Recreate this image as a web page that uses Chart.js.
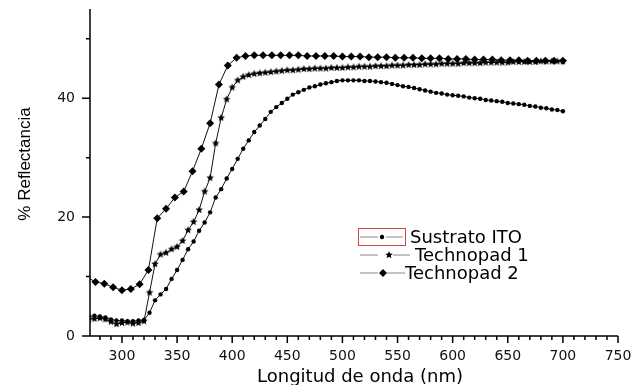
<!DOCTYPE html>
<html>
<head>
<meta charset="utf-8">
<script src="https://cdn.jsdelivr.net/npm/chart.js@4/dist/chart.umd.min.js"></script>
<style>
  html, body { margin: 0; padding: 0; background: #fff; }
  #wrap { width: 634px; height: 385px; }
</style>
</head>
<body>
<div id="wrap"><canvas id="c" width="634" height="385"></canvas></div>
<script>
// wavelengths (nm) and reflectance (%)
var itoWave = [270,275,280,285,290,295,300,305,310,315,320,325,330,335,340,345,350,355,360,365,
               370,375,380,385,390,395,400,405,410,415,420,425,430,435,440,445,450,455,460,465,
               470,475,480,485,490,495,500,505,510,515,520,525,530,535,540,545,550,555,560,565,
               570,575,580,585,590,595,600,605,610,615,620,625,630,635,640,645,650,655,660,665,
               670,675,680,685,690,695,700];
var itoRefl = [3.3,3.4,3.3,3.1,2.8,2.6,2.6,2.5,2.5,2.6,2.7,3.9,6.0,7.0,7.9,9.6,11.1,12.8,14.6,15.9,
               17.7,19.1,20.8,23.3,24.7,26.5,28.1,29.8,31.5,32.9,34.3,35.4,36.5,37.7,38.5,39.2,39.9,40.6,41.0,41.4,
               41.8,42.0,42.3,42.5,42.7,42.9,43.0,43.0,43.0,43.0,42.9,42.9,42.8,42.7,42.6,42.4,42.2,42.0,41.9,41.7,
               41.5,41.3,41.1,40.9,40.8,40.6,40.5,40.4,40.3,40.1,40.0,39.9,39.7,39.6,39.5,39.4,39.2,39.1,39.0,38.9,
               38.7,38.6,38.4,38.3,38.1,38.0,37.8];

var tp1Wave = [270,275,280,285,290,295,300,305,310,315,320,325,330,335,340,345,350,355,360,365,
               370,375,380,385,390,395,400,405,410,415,420,425,430,435,440,445,450,455,460,465,
               470,475,480,485,490,495,500,505,510,515,520,525,530,535,540,545,550,555,560,565,
               570,575,580,585,590,595,600,605,610,615,620,625,630,635,640,645,650,655,660,665,
               670,675,680,685,690,695,700];
var tp1Refl = [2.8,2.9,3.0,2.8,2.4,2.0,2.2,2.3,2.1,2.2,2.5,7.3,12.1,13.7,14.0,14.6,15.0,16.0,17.8,19.2,
               21.2,24.3,26.6,32.4,36.7,39.8,41.8,43.0,43.6,43.9,44.1,44.2,44.3,44.4,44.5,44.6,44.7,44.7,44.8,44.9,
               44.9,45.0,45.0,45.0,45.1,45.1,45.1,45.2,45.2,45.3,45.3,45.3,45.4,45.4,45.4,45.5,45.5,45.5,45.6,45.6,
               45.6,45.7,45.7,45.7,45.8,45.8,45.8,45.8,45.9,45.9,45.9,45.9,46.0,46.0,46.0,46.0,46.0,46.1,46.1,46.1,
               46.1,46.1,46.2,46.2,46.2,46.2,46.2];

var tp2Wave = [268,276,284,292,300,308,316,324,332,340,348,356,364,372,380,388,396,404,412,420,
               428,436,444,452,460,468,476,484,492,500,508,516,524,532,540,548,556,564,572,580,
               588,596,604,612,620,628,636,644,652,660,668,676,684,692,700];
var tp2Refl = [9.9,9.1,8.8,8.2,7.7,7.9,8.7,11.1,19.8,21.4,23.3,24.3,27.7,31.5,35.8,42.3,45.5,46.8,47.1,47.2,
               47.2,47.2,47.2,47.2,47.2,47.1,47.1,47.1,47.1,47.0,47.0,47.0,46.9,46.9,46.9,46.8,46.8,46.8,46.7,46.7,
               46.7,46.6,46.6,46.6,46.5,46.5,46.5,46.4,46.4,46.4,46.3,46.3,46.3,46.3,46.3];

var seriesNames = ['Sustrato ITO', 'Technopad 1', 'Technopad 2'];
var xMajorTicks = [300, 350, 400, 450, 500, 550, 600, 650, 700, 750];
var xMinorTicks = [280, 290, 310, 320, 330, 340, 360, 370, 380, 390, 410, 420, 430, 440, 460, 470, 480, 490,
                   510, 520, 530, 540, 560, 570, 580, 590, 610, 620, 630, 640, 660, 670, 680, 690, 710, 720, 730, 740];
var yMajorTicks = [0, 20, 40];
var yMinorTicks = [10, 30, 50];

function pairs(xs, ys) {
    return xs.map(function (x, i) { return { x: x, y: ys[i] }; });
}

function starImage(r) {
    var c = document.createElement('canvas');
    var s = Math.ceil(r * 2) + 2;
    c.width = c.height = s;
    var g = c.getContext('2d');
    g.fillStyle = '#000';
    g.beginPath();
    for (var i = 0; i < 10; i++) {
        var rad = (i % 2 === 0) ? r : r * 0.45;
        var ang = -Math.PI / 2 + i * Math.PI / 5;
        var px = s / 2 + rad * Math.cos(ang), py = s / 2 + rad * Math.sin(ang);
        if (i === 0) { g.moveTo(px, py); } else { g.lineTo(px, py); }
    }
    g.closePath();
    g.fill();
    return c;
}
var star = starImage(4);

var axesPlugin = {
    id: 'axesTicks',
    afterDraw: function (chart) {
        var ctx = chart.ctx, xs = chart.scales.x, ys = chart.scales.y, a = chart.chartArea;
        ctx.save();
        ctx.strokeStyle = '#000';
        ctx.lineWidth = 1.5;
        ctx.beginPath();
        ctx.moveTo(a.left, a.top); ctx.lineTo(a.left, a.bottom);
        ctx.moveTo(a.left, a.bottom); ctx.lineTo(a.right, a.bottom);
        xMajorTicks.forEach(function (v) {
            var p = xs.getPixelForValue(v);
            ctx.moveTo(p, a.bottom); ctx.lineTo(p, a.bottom + 7);
        });
        xMinorTicks.forEach(function (v) {
            var p = xs.getPixelForValue(v);
            ctx.moveTo(p, a.bottom); ctx.lineTo(p, a.bottom + 4);
        });
        yMajorTicks.forEach(function (v) {
            var p = ys.getPixelForValue(v);
            ctx.moveTo(a.left, p); ctx.lineTo(a.left - 8, p);
        });
        yMinorTicks.forEach(function (v) {
            var p = ys.getPixelForValue(v);
            ctx.moveTo(a.left, p); ctx.lineTo(a.left - 4, p);
        });
        ctx.stroke();

        // axis titles
        ctx.fillStyle = '#000';
        ctx.font = '18px "DejaVu Sans"';
        ctx.textAlign = 'center';
        ctx.textBaseline = 'alphabetic';
        ctx.fillText('Longitud de onda (nm)', 360, 382);
        ctx.save();
        ctx.translate(30, 164);
        ctx.rotate(-Math.PI / 2);
        ctx.font = '17px "Liberation Sans"';
        ctx.fillText('% Reflectancia', 0, 0);
        ctx.restore();

        // legend
        var rows = [
            { y: 237, mark: 382, seg: [360, 378, 386, 403], text: 410 },
            { y: 255, mark: 389, seg: [360, 378, 393, 410], text: 415 },
            { y: 273, mark: 383, seg: [360, 378, 387, 405], text: 405 }
        ];
        ctx.strokeStyle = '#d04a4a';
        ctx.lineWidth = 1;
        ctx.strokeRect(358.5, 228.5, 47, 17);
        ctx.strokeStyle = '#8a8a8a';
        ctx.lineWidth = 1.2;
        ctx.font = '18px "DejaVu Sans"';
        ctx.textAlign = 'left';
        ctx.textBaseline = 'middle';
        rows.forEach(function (r, i) {
            ctx.beginPath();
            ctx.moveTo(r.seg[0], r.y); ctx.lineTo(r.seg[1], r.y);
            ctx.moveTo(r.seg[2], r.y); ctx.lineTo(r.seg[3], r.y);
            ctx.stroke();
            var ds = chart.data.datasets[i];
            ctx.fillStyle = '#000';
            Chart.helpers.drawPoint(ctx, {
                pointStyle: ds.pointStyle, radius: ds.pointRadius, rotation: 0, borderWidth: 0
            }, r.mark, r.y);
            ctx.fillStyle = '#000';
            ctx.fillText(seriesNames[i], r.text, r.y + 1);
        });
        ctx.restore();
    }
};

new Chart(document.getElementById('c'), {
    type: 'line',
    data: {
        datasets: [
            { label: seriesNames[0], data: pairs(itoWave, itoRefl), borderColor: '#111', borderWidth: 1,
              pointStyle: 'circle', pointRadius: 2.2, pointBackgroundColor: '#000', pointBorderWidth: 0, tension: 0 },
            { label: seriesNames[1], data: pairs(tp1Wave, tp1Refl), borderColor: '#111', borderWidth: 1,
              pointStyle: star, pointRadius: 4, pointBackgroundColor: '#000', pointBorderWidth: 0, tension: 0 },
            { label: seriesNames[2], data: pairs(tp2Wave, tp2Refl), borderColor: '#111', borderWidth: 1,
              pointStyle: 'rectRot', pointRadius: 4, pointBackgroundColor: '#000', pointBorderWidth: 0, tension: 0 }
        ]
    },
    options: {
        responsive: false,
        animation: false,
        layout: { padding: { left: 0, right: 16, top: 9, bottom: 0 } },
        plugins: { legend: { display: false }, tooltip: { enabled: false } },
        scales: {
            x: {
                type: 'linear', min: 271, max: 750,
                afterFit: function (s) { s.height = 49; s.paddingLeft = 0; s.paddingRight = 0; },
                grid: { display: false, drawTicks: false },
                border: { display: false },
                ticks: {
                    stepSize: 10, autoSkip: false, maxRotation: 0, padding: 12, color: '#111',
                    font: { family: 'DejaVu Sans', size: 14 },
                    callback: function (v) { return xMajorTicks.indexOf(v) >= 0 ? String(v) : ''; }
                }
            },
            y: {
                type: 'linear', min: 0, max: 55,
                afterFit: function (s) { s.width = 90; s.paddingTop = 0; s.paddingBottom = 0; },
                grid: { display: false, drawTicks: false },
                border: { display: false },
                ticks: {
                    stepSize: 10, autoSkip: false, padding: 15, color: '#111',
                    font: { family: 'DejaVu Sans', size: 14 },
                    callback: function (v) { return yMajorTicks.indexOf(v) >= 0 ? String(v) : ''; }
                }
            }
        }
    },
    plugins: [axesPlugin]
});
</script>
</body>
</html>
